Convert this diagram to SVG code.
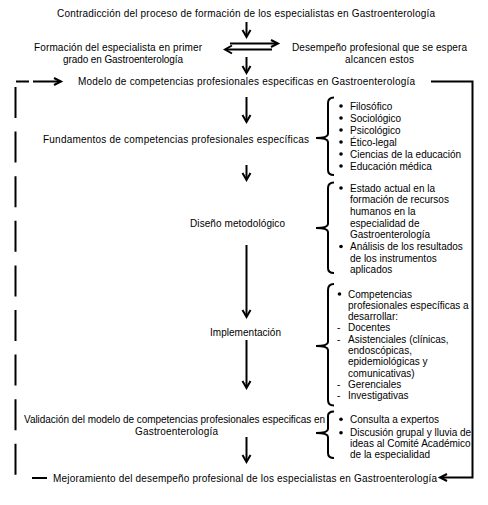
<svg xmlns="http://www.w3.org/2000/svg" width="488" height="505" viewBox="0 0 488 505">
<style>
text{font-family:"Liberation Sans",Arial,sans-serif;font-size:10px;fill:#000}
.m{text-anchor:middle}
.ln{fill:none;stroke:#000;stroke-width:2}
.ah{fill:none;stroke:#000;stroke-width:2;stroke-linejoin:miter}
.br{fill:none;stroke:#000;stroke-width:2}
.ds{fill:none;stroke:#000;stroke-width:2}
.bu{fill:#000}
</style>
<rect width="488" height="505" fill="#fff"/>
<g id="connectors">
  <path class="ln" d="M246.5,22 V36"/><path class="ah" d="M242.5,30 L246.5,37 L250.5,30"/>
  <path class="ln" d="M246.5,57 V72"/><path class="ah" d="M242.5,66 L246.5,73 L250.5,66"/>
  <path class="ln" d="M246.5,97 V121"/><path class="ah" d="M242.5,115 L246.5,122 L250.5,115"/>
  <path class="ln" d="M246.5,165 V179"/><path class="ah" d="M242.5,173 L246.5,180 L250.5,173"/>
  <path class="ln" d="M246.5,245 V316"/><path class="ah" d="M242.5,310 L246.5,317 L250.5,310"/>
  <path class="ln" d="M246.5,340 V387"/><path class="ah" d="M242.5,381 L246.5,388 L250.5,381"/>
  <path class="ln" d="M246.5,437 V461"/><path class="ah" d="M242.5,455 L246.5,462 L250.5,455"/>
  <path class="ln" d="M230,43.5 H277"/><path class="ah" d="M271,40 L278,43.5 L271,47"/>
  <path class="ln" d="M226,49.5 H272"/><path class="ah" d="M232,45.5 L225,49.5 L232,53.5"/>
  <path class="ds" d="M15.5,87 V478" stroke-dasharray="31 13.6"/>
  <path class="ds" d="M16,81.5 H29 M33,81.5 H59"/>
  <path class="ah" d="M54,78 L61,81.5 L54,85"/>
  <path class="ds" d="M32,478 H47"/>
  <path class="ln" d="M431,81.5 H472.5 V477.5 H441"/>
  <path class="ah" d="M447,474 L440,477.5 L447,481"/>
  <path class="br" d="M334,97.5 Q328,97.5 328,103 V134 Q328,138 316,138 Q328,138 328,142 V170 Q328,175 334,175"/>
  <path class="br" d="M334,182.5 Q328,182.5 328,188 V224 Q328,228 316,228 Q328,228 328,232 V268 Q328,273 334,273"/>
  <path class="br" d="M334,284 Q328,284 328,290 V342 Q328,346 316,346 Q328,346 328,350 V400 Q328,405.5 334,405.5"/>
  <path class="br" d="M334,411.5 Q328,411.5 328,416 V429 Q328,433 316,433 Q328,433 328,437 V453 Q328,458 334,458"/>
</g>
<g id="n-contradiccion"><text class="m" x="246" y="17" textLength="378">Contradicción del proceso de formación de los especialistas en Gastroenterología</text></g>
<g id="n-formacion"><text class="m" x="118" y="50.5" textLength="168">Formación del especialista en primer</text><text class="m" x="123" y="62.5" textLength="120">grado en Gastroenterología</text></g>
<g id="n-desempeno"><text class="m" x="379.5" y="50.5" textLength="175">Desempeño profesional que se espera</text><text class="m" x="379.5" y="62.5" textLength="69">alcancen estos</text></g>
<g id="n-modelo"><text class="m" x="246.5" y="84.5" textLength="337">Modelo de competencias profesionales especificas en Gastroenterología</text></g>
<g id="n-fundamentos"><text class="m" x="176" y="142.5" textLength="266">Fundamentos de competencias profesionales específicas</text></g>
<g id="n-fundamentos-list">
  <circle class="bu" cx="341" cy="106" r="1.8"/><text x="350" y="109.5">Filosófico</text>
  <circle class="bu" cx="341" cy="118" r="1.8"/><text x="350" y="121.5">Sociológico</text>
  <circle class="bu" cx="341" cy="130" r="1.8"/><text x="350" y="133.5">Psicológico</text>
  <circle class="bu" cx="341" cy="142" r="1.8"/><text x="350" y="145.5">Ético-legal</text>
  <circle class="bu" cx="341" cy="154" r="1.8"/><text x="350" y="157.5">Ciencias de la educación</text>
  <circle class="bu" cx="341" cy="166" r="1.8"/><text x="350" y="169.5">Educación médica</text>
</g>
<g id="n-diseno"><text class="m" x="237.5" y="226.5" textLength="95">Diseño metodológico</text></g>
<g id="n-diseno-list">
  <circle class="bu" cx="341" cy="188" r="1.8"/><text x="350" y="191.5">Estado actual en la</text>
  <text x="350" y="203.2">formación de recursos</text>
  <text x="350" y="214.9">humanos en la</text>
  <text x="350" y="226.6">especialidad de</text>
  <text x="350" y="238.3">Gastroenterología</text>
  <circle class="bu" cx="341" cy="246.5" r="1.8"/><text x="350" y="250">Análisis de los resultados</text>
  <text x="350" y="261.7">de los instrumentos</text>
  <text x="350" y="273.4">aplicados</text>
</g>
<g id="n-implementacion"><text class="m" x="245.5" y="335.5" textLength="71">Implementación</text></g>
<g id="n-implementacion-list">
  <circle class="bu" cx="339.5" cy="294" r="1.8"/><text x="348" y="297.5">Competencias</text>
  <text x="348" y="308.8">profesionales específicas a</text>
  <text x="348" y="320.1">desarrollar:</text>
  <text x="337" y="331.4">-</text><text x="348" y="331.4">Docentes</text>
  <text x="337" y="342.7">-</text><text x="348" y="342.7">Asistenciales (clínicas,</text>
  <text x="348" y="354">endoscópicas,</text>
  <text x="348" y="365.3">epidemiológicas y</text>
  <text x="348" y="376.6">comunicativas)</text>
  <text x="337" y="387.9">-</text><text x="348" y="387.9">Gerenciales</text>
  <text x="337" y="399.2">-</text><text x="348" y="399.2">Investigativas</text>
</g>
<g id="n-validacion"><text class="m" x="174.5" y="422.5" textLength="301">Validación del modelo de competencias profesionales especificas en</text><text class="m" x="176.5" y="434.5" textLength="83">Gastroenterología</text></g>
<g id="n-validacion-list">
  <circle class="bu" cx="341" cy="419.3" r="1.8"/><text x="350" y="422.8">Consulta a expertos</text>
  <circle class="bu" cx="341" cy="432.7" r="1.8"/><text x="350" y="436.2">Discusión grupal y lluvia de</text>
  <text x="350" y="446.8">ideas al Comité Académico</text>
  <text x="350" y="457.8">de la especialidad</text>
</g>
<g id="n-mejoramiento"><text class="m" x="245" y="481.5" textLength="384">Mejoramiento del desempeño profesional de los especialistas en Gastroenterología</text></g>
</svg>
